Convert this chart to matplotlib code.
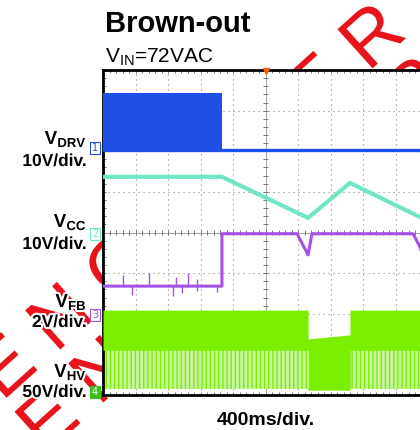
import numpy as np
import matplotlib
matplotlib.use("Agg")
import matplotlib.pyplot as plt
import matplotlib.patheffects as pe

# Screen in divisions: 10 horizontal (400ms/div), 8 vertical
# VDRV (ch1, blue)
vdrv_t = [0.0, 3.66, 3.66, 10.0]
vdrv_burst_top = 7.44
vdrv_base = 6.03

# VCC (ch2, aquamarine)
vcc_t = [0.0, 3.66, 6.31, 7.60, 9.75, 10.0]
vcc_v = [5.37, 5.37, 4.36, 5.22, 4.38, 4.28]

# VFB (ch3, purple)
vfb_t = [0.0, 3.66, 3.66, 5.97, 6.31, 6.43, 9.54, 9.75, 10.0]
vfb_v = [2.68, 2.68, 3.97, 3.97, 3.45, 3.97, 3.97, 3.65, 3.00]
vfb_spike_up_t = [0.62, 1.42, 2.25, 2.62, 2.89]
vfb_spike_up_v = [2.96, 3.00, 2.91, 3.00, 2.86]
vfb_spike_dn_t = [0.89, 2.15, 2.43, 2.89, 3.51]
vfb_spike_dn_v = [2.46, 2.44, 2.51, 2.56, 2.54]

# VHV (ch4, green) envelope
vhv_t = [0.0, 6.31, 6.31, 7.60, 7.60, 10.0]
vhv_top = [2.09, 2.09, 1.38, 1.48, 2.09, 2.09]
vhv_dense_bot = [1.10, 1.10, 0.12, 0.12, 1.10, 1.10]
vhv_spike_bot = 0.15

BLUE = "#1e50e6"
CYAN = "#6fe6c6"
PURPLE = "#a352e6"
GREEN = "#7af000"
LGREEN = "#c9f5a2"

W, H = 420, 430


def fx(px):
    return px / W


def fy(py):
    return 1 - py / H


plt.rcParams["mathtext.fontset"] = "custom"
plt.rcParams["mathtext.rm"] = "Liberation Sans"
plt.rcParams["mathtext.bf"] = "Liberation Sans:bold"

fig = plt.figure(figsize=(4.2, 4.3), dpi=100)
ax = fig.add_axes([fx(103), fy(395), (428 - 103) / W, (395 - 70) / H])
ax.set_xlim(0, 10)
ax.set_ylim(0, 8)
ax.set_facecolor("white")

# grid
for gx in range(1, 10):
    ax.axvline(gx, color="#888888", lw=0.8, ls=(0, (1, 3.5)), zorder=1)
for gy in range(1, 8):
    ax.axhline(gy, color="#888888", lw=0.8, ls=(0, (1, 3.5)), zorder=1)
ax.axvline(5, color="#999999", lw=0.6, zorder=1)
ax.axhline(4, color="#999999", lw=0.6, zorder=1)
minor = np.arange(0.2, 10, 0.2)
ax.vlines(minor, 4 - 0.06, 4 + 0.06, color="#777777", lw=0.7, zorder=1)
ax.vlines(minor, 8 - 0.08, 8, color="#777777", lw=0.7, zorder=1)
ax.vlines(minor, 0, 0.08, color="#777777", lw=0.7, zorder=1)
minor_y = np.arange(0.2, 8, 0.2)
ax.hlines(minor_y, 5 - 0.08, 5 + 0.08, color="#777777", lw=0.7, zorder=1)
ax.hlines(minor_y, 0, 0.1, color="#777777", lw=0.7, zorder=1)

# VHV
ax.fill_between(vhv_t, vhv_spike_bot, vhv_dense_bot, color=LGREEN, lw=0,
                zorder=2)
ax.fill_between(vhv_t, vhv_spike_bot, vhv_dense_bot, facecolor="none",
                edgecolor=GREEN, hatch="||||", lw=0, zorder=2)
ax.fill_between(vhv_t, vhv_dense_bot, vhv_top, color=GREEN, lw=0, zorder=3)

# VFB
ax.plot(vfb_t, vfb_v, color=PURPLE, lw=2.2, zorder=4)
ax.vlines(vfb_spike_up_t, vfb_v[0], vfb_spike_up_v, color=PURPLE, lw=1.0,
          zorder=4)
ax.vlines(vfb_spike_dn_t, vfb_spike_dn_v, vfb_v[0], color=PURPLE, lw=1.0,
          zorder=4)

# VCC
ax.plot(vcc_t, vcc_v, color=CYAN, lw=3.0, zorder=4)

# VDRV
ax.fill_between(vdrv_t[:2], vdrv_base, vdrv_burst_top, color=BLUE, lw=0,
                zorder=4)
ax.plot(vdrv_t, [vdrv_base] * 4, color=BLUE, lw=2.4, zorder=4)

# trigger marker
ax.plot([5], [7.97], marker="v", color="#f06010", ms=4, clip_on=False,
        zorder=6)

ax.set_xticks([])
ax.set_yticks([])
for side in ["left", "bottom", "top", "right"]:
    ax.spines[side].set_linewidth(2)
    ax.spines[side].set_color("black")

# watermark behind the screen
wm = dict(color="#e8141c", fontsize=55, rotation=42, rotation_mode="anchor",
          ha="left", va="baseline", family="Liberation Sans", zorder=-1,
          path_effects=[pe.withStroke(linewidth=4, foreground="white")])
fig.text(fx(2), fy(402), "E N G I N E E R", **wm)
fig.text(fx(45), fy(455), "E N G I N E E R", **wm)

# titles
halo = [pe.withStroke(linewidth=3, foreground="white")]
fig.text(fx(105), fy(32), "Brown-out", fontsize=21, fontweight="bold",
         family="Liberation Sans", ha="left", va="baseline")
fig.text(fx(105), fy(62), r"V$_\mathregular{IN}$=72VAC", fontsize=15,
         family="Liberation Sans", ha="left", va="baseline")
fig.text(fx(217), fy(425), "400ms/div.", fontsize=14, fontweight="bold",
         family="Liberation Sans", ha="left", va="baseline")

labels = [
    (r"V$_\mathbf{DRV}$", "10V/div.", 144, 166),
    (r"V$_\mathbf{CC}$", "10V/div.", 227, 249),
    (r"V$_\mathbf{FB}$", "2V/div.", 307, 327),
    (r"V$_\mathbf{HV}$", "50V/div.", 377, 397),
]
for name, scale, y1, y2 in labels:
    fig.text(fx(87), fy(y1), name, fontsize=13.5, fontweight="bold",
             family="Liberation Sans", ha="right", va="baseline",
             path_effects=halo)
    fig.text(fx(87), fy(y2), scale, fontsize=12.5, fontweight="bold",
             family="Liberation Sans", ha="right", va="baseline",
             path_effects=halo)

markers = [("1", 148, BLUE, "white", BLUE),
           ("2", 234, CYAN, "white", CYAN),
           ("3", 315, PURPLE, "white", PURPLE),
           ("4", 392, "#3cc020", "#3cc020", "white")]
for num, y, ec, fc, tc in markers:
    fig.text(fx(95), fy(y), num, fontsize=7, color=tc, ha="center",
             va="center", family="DejaVu Sans",
             bbox=dict(boxstyle="square,pad=0.15", ec=ec, fc=fc, lw=0.8))

fig.savefig("out.png", dpi=100, facecolor="white")
